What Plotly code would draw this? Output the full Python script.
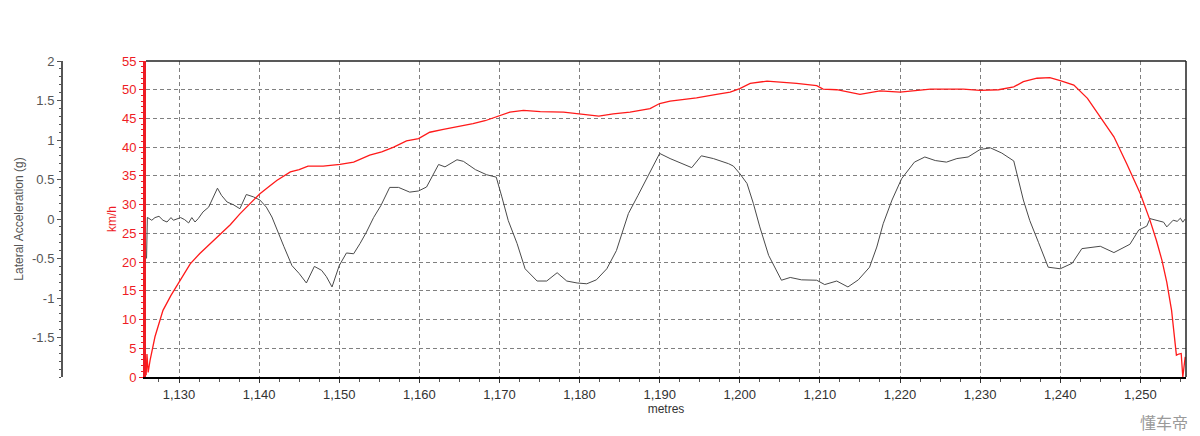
import plotly.graph_objects as go

# ---- Speed (km/h) vs distance (metres) ----
dist_speed = [1125.9, 1126.0, 1126.15, 1126.4, 1127.0, 1127.6, 1128.0, 1129.0, 1130.0, 1131.4,
              1132.6, 1134.0, 1135.1, 1136.4, 1137.6, 1138.8, 1140.1, 1141.2, 1142.2, 1143.9,
              1145.0, 1146.1, 1148.0, 1150.1, 1151.8, 1153.8, 1155.3, 1156.8, 1158.4, 1159.9,
              1161.3, 1163.0, 1164.7, 1166.7, 1168.2, 1169.7, 1171.3, 1173.0, 1175.1, 1178.0,
              1180.1, 1182.4, 1184.2, 1186.3, 1188.8, 1190.0, 1191.3, 1194.6, 1197.1, 1198.8,
              1200.0, 1201.3, 1203.4, 1204.6, 1207.1, 1209.6, 1210.4, 1212.1, 1215.0, 1217.5,
              1220.0, 1223.8, 1227.9, 1230.0, 1232.3, 1234.2, 1235.4, 1237.1, 1238.7, 1240.0,
              1241.7, 1243.4, 1245.0, 1246.7, 1248.3, 1250.0, 1251.2, 1252.0, 1252.7, 1253.3,
              1253.9, 1254.5, 1254.8, 1255.1, 1255.3, 1255.6]
speed = [0.3, 4.0, 0.8, 3.0, 7.0, 9.9, 11.6, 14.2, 16.5, 19.7,
         21.5, 23.3, 24.7, 26.5, 28.4, 30.1, 31.9, 33.1, 34.2, 35.7,
         36.1, 36.7, 36.7, 37.0, 37.4, 38.6, 39.2, 40.0, 41.1, 41.5,
         42.6, 43.1, 43.5, 44.1, 44.6, 45.3, 46.1, 46.4, 46.2, 46.1,
         45.8, 45.4, 45.8, 46.1, 46.7, 47.6, 48.0, 48.6, 49.2, 49.6,
         50.2, 51.1, 51.5, 51.4, 51.1, 50.7, 50.1, 50.0, 49.2, 49.8,
         49.6, 50.1, 50.1, 49.9, 50.0, 50.5, 51.4, 52.0, 52.1, 51.6,
         50.8, 48.5, 45.3, 41.8, 37.1, 31.9, 27.3, 23.8, 20.3, 16.5,
         11.6, 3.8, 4.0, 4.1, 0.0, 3.5]

# ---- Lateral acceleration (g) vs distance (metres) ----
dist_lat = [1125.95, 1126.05, 1126.6, 1127.0, 1127.5, 1128.0, 1128.5, 1129.0, 1129.3, 1129.7,
            1130.2, 1130.7, 1131.2, 1131.6, 1132.0, 1132.4, 1133.0, 1133.7, 1134.3, 1134.8,
            1135.3, 1136.0, 1136.8, 1137.6, 1138.4, 1139.3, 1140.1, 1140.9, 1141.6, 1142.3,
            1143.1, 1144.1, 1145.0, 1145.9, 1146.9, 1147.8, 1148.4, 1149.1, 1150.0, 1150.9,
            1151.8, 1152.6, 1153.4, 1154.3, 1155.2, 1156.3, 1157.4, 1158.8, 1159.9, 1160.9,
            1161.8, 1162.4, 1163.2, 1164.7, 1165.5, 1167.0, 1168.4, 1169.6, 1170.3, 1171.1,
            1172.2, 1173.2, 1174.7, 1175.9, 1177.2, 1178.4, 1179.7, 1180.9, 1182.1, 1183.4,
            1184.6, 1185.3, 1186.1, 1187.3, 1188.6, 1190.0, 1191.3, 1194.0, 1195.2, 1196.7,
            1198.6, 1199.2, 1200.0, 1200.9, 1201.7, 1202.5, 1203.6, 1205.2, 1206.3, 1207.7,
            1209.6, 1210.6, 1212.1, 1213.5, 1214.8, 1216.2, 1217.1, 1217.9, 1219.0, 1220.2,
            1221.8, 1223.1, 1224.4, 1225.8, 1227.1, 1228.5, 1230.0, 1231.3, 1232.7, 1234.2,
            1235.4, 1236.2, 1237.3, 1238.5, 1240.0, 1241.5, 1242.7, 1245.0, 1246.7, 1248.7,
            1249.8, 1250.8, 1251.2, 1252.0, 1252.9, 1253.3, 1254.1, 1254.6, 1255.0, 1255.3,
            1255.6]
lat_g = [-0.5, 0.02, -0.016, 0.018, 0.034, -0.016, -0.038, 0.018, -0.016, 0.0,
         0.018, -0.008, -0.05, 0.018, -0.038, 0.005, 0.09, 0.15, 0.28, 0.39,
         0.30, 0.215, 0.18, 0.13, 0.31, 0.28, 0.24, 0.15, 0.025, -0.14,
         -0.35, -0.59, -0.69, -0.81, -0.60, -0.65, -0.73, -0.86, -0.59, -0.43,
         -0.44, -0.31, -0.165, 0.02, 0.17, 0.40, 0.40, 0.34, 0.355, 0.405,
         0.575, 0.69, 0.66, 0.75, 0.73, 0.625, 0.56, 0.53, 0.28, -0.02,
         -0.31, -0.63, -0.785, -0.785, -0.68, -0.785, -0.81, -0.82, -0.77, -0.63,
         -0.40, -0.185, 0.07, 0.30, 0.555, 0.83, 0.765, 0.65, 0.80, 0.765,
         0.70, 0.67, 0.575, 0.45, 0.195, -0.10, -0.46, -0.775, -0.74, -0.77,
         -0.775, -0.83, -0.785, -0.86, -0.77, -0.61, -0.355, -0.06, 0.24, 0.51,
         0.72, 0.785, 0.74, 0.72, 0.765, 0.785, 0.88, 0.90, 0.835, 0.735,
         0.24, -0.02, -0.30, -0.61, -0.63, -0.56, -0.375, -0.345, -0.425, -0.32,
         -0.14, -0.09, 0.005, -0.015, -0.04, -0.10, -0.015, -0.03, 0.01, -0.04,
         0.0]

lat_tickvals = [-1.5, -1, -0.5, 0, 0.5, 1, 1.5, 2]
lat_ticktext = ["-1.5", "-1", "-0.5", "0", "0.5", "1", "1.5", "2"]

RED = "#ee1c25"
GRAY = "#555555"
FONT = "Liberation Sans, Arial, sans-serif"
GRID_DASH = "4px,3px"

fig = go.Figure()
fig.add_trace(go.Scatter(x=dist_lat, y=lat_g, mode="lines", yaxis="y",
                         line=dict(color="#4a4a4a", width=1), showlegend=False))
fig.add_trace(go.Scatter(x=dist_speed, y=speed, mode="lines", yaxis="y2",
                         line=dict(color="#ff1a1a", width=1.3), showlegend=False))

# page body adds an 8px offset; figure is sized/positioned to compensate
FIG_W, FIG_H = 1192, 428
ML, MR, MT, MB = 0, 14, 53, 59
W = FIG_W - ML - MR  # 1178
fig.update_layout(
    width=FIG_W, height=FIG_H,
    margin=dict(l=ML, r=MR, t=MT, b=MB, autoexpand=False),
    paper_bgcolor="white", plot_bgcolor="white",
    font=dict(family=FONT, size=12, color="#333"),
    xaxis=dict(domain=[138 / W, 1], range=[1125.88, 1255.7], automargin=False,
               tick0=1130, dtick=10, tickformat=",d",
               showgrid=True, gridcolor="#808080", griddash=GRID_DASH, gridwidth=1,
               showline=True, linecolor="black", linewidth=2,
               ticks="outside", ticklen=4, tickcolor="#333",
               minor=dict(dtick=2.5, tick0=1130, ticks="outside", ticklen=3, tickcolor="#555", showgrid=False),
               tickfont=dict(size=13, color="#333"),
               title=dict(text="metres", font=dict(size=12, color="#333"), standoff=3),
               zeroline=False),
    yaxis=dict(anchor="free", position=54 / W, side="left", range=[-2, 2], automargin=False,
               tickmode="array", tickvals=lat_tickvals, ticktext=lat_ticktext,
               showgrid=False, zeroline=False,
               showline=True, linecolor=GRAY, linewidth=2,
               ticks="outside", ticklen=4, tickcolor=GRAY,
               minor=dict(tickmode="linear", tick0=0, dtick=0.1, ticks="outside", ticklen=2, tickcolor=GRAY, showgrid=False),
               tickfont=dict(size=13, color="#555"),
               title=dict(text="Lateral Acceleration (g)", font=dict(size=12, color="#555"), standoff=5)),
    yaxis2=dict(overlaying="y", anchor="x", side="left", range=[0, 55], dtick=5, automargin=False,
                showgrid=True, gridcolor="#808080", griddash=GRID_DASH, gridwidth=1,
                zeroline=False,
                showline=True, linecolor=RED, linewidth=3,
                ticks="outside", ticklen=4, tickcolor=RED,
                minor=dict(dtick=1, ticks="outside", ticklen=2, tickcolor=RED, showgrid=False),
                tickfont=dict(size=13, color=RED),
                title=dict(text="km/h", font=dict(size=12, color=RED), standoff=3)),
    shapes=[
        dict(type="line", xref="x domain", yref="y domain", x0=0, x1=1, y0=1, y1=1,
             line=dict(color="#222", width=1.5)),
        dict(type="line", xref="x domain", yref="y domain", x0=1, x1=1, y0=0, y1=1,
             line=dict(color="#222", width=1.5)),
    ],
    annotations=[
        dict(text="懂车帝", xref="paper", yref="paper", x=1182 / W, y=-0.141,
             xanchor="right", yanchor="middle", showarrow=False,
             font=dict(family="Noto Sans CJK SC", size=16, color="#9a9a9a")),
    ],
)

fig.write_html("out.html")
